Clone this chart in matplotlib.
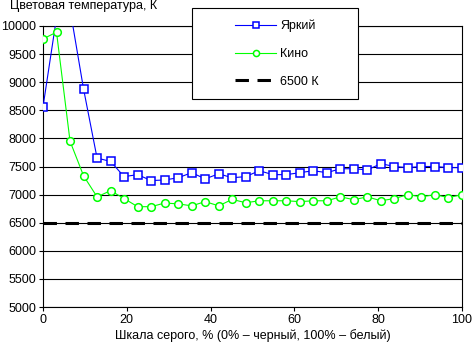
import matplotlib
matplotlib.use("Agg")
import matplotlib.pyplot as plt
import numpy as np
from matplotlib.patches import Rectangle

plt.rcParams['font.family'] = ['Liberation Sans', 'DejaVu Sans']

# gray scale points, 0..100 % in 32 steps
gray = np.linspace(0, 100, 32)

bright = [8560, 10150, 10300, 8880, 7650, 7590, 7320, 7355, 7250, 7260,
          7300, 7390, 7280, 7370, 7300, 7320, 7425, 7355, 7355, 7390,
          7425, 7390, 7460, 7460, 7440, 7550, 7500, 7480, 7500, 7500,
          7480, 7480]
cinema = [9770, 9890, 7950, 7335, 6960, 7070, 6930, 6785, 6785, 6850,
          6835, 6800, 6875, 6800, 6915, 6855, 6890, 6890, 6890, 6875,
          6890, 6890, 6960, 6910, 6960, 6890, 6930, 7000, 6960, 7000,
          6945, 7000]
target = 6500

series_names = ['Яркий', 'Кино', '6500 К']
y_title = 'Цветовая температура, К'
x_title = 'Шкала серого, % (0% – черный, 100% – белый)'
x_ticks = [0, 20, 40, 60, 80, 100]
y_ticks = list(range(5000, 10001, 500))

fs = 9

fig = plt.figure(figsize=(4.72, 3.49), dpi=100)
ax = fig.add_axes([43/472, 1-307/349, (462-43)/472, (307-26)/349])

for y in y_ticks:
    ax.axhline(y, color='black', lw=0.8, zorder=1)

l1, = ax.plot(gray, bright, color='#0000ff', lw=0.8, marker='s', ms=6,
              mfc='white', mec='#0000ff', mew=1.1, zorder=3)
l2, = ax.plot(gray, cinema, color='#00ff00', lw=0.8, marker='o', ms=5.5,
              mfc='white', mec='#00ff00', mew=1.1, zorder=3)
l3, = ax.plot([gray[0], gray[-1]], [target, target], color='black', lw=2.2,
              dashes=(4.4, 2.8), zorder=2)

ax.set_xlim(0, 100)
ax.set_ylim(5000, 10000)
ax.set_xticks(x_ticks)
ax.set_yticks(y_ticks)
ax.tick_params(direction='out', length=3, width=0.8, labelsize=fs, pad=2)
for s in ax.spines.values():
    s.set_linewidth(0.8)
    s.set_color('black')

ax.set_xlabel(x_title, fontsize=fs, labelpad=2)
fig.text(10/472, 1-6.5/349, y_title, fontsize=fs, va='center', ha='left')

# legend box
box = Rectangle((192/472, 1-99/349), 166/472, 91/349,
                transform=fig.transFigure, facecolor='white',
                edgecolor='black', lw=0.8, zorder=5)
fig.patches.append(box)
leg = fig.legend([l1, l2, l3], series_names, loc='upper left',
                 bbox_to_anchor=(235/472, 1-20/349), frameon=False,
                 fontsize=fs, handlelength=3.3, handletextpad=0.3,
                 labelspacing=1.25, borderpad=0, borderaxespad=0,
                 markerscale=0.8)
leg.set_zorder(6)

fig.savefig('out.png', dpi=100)
